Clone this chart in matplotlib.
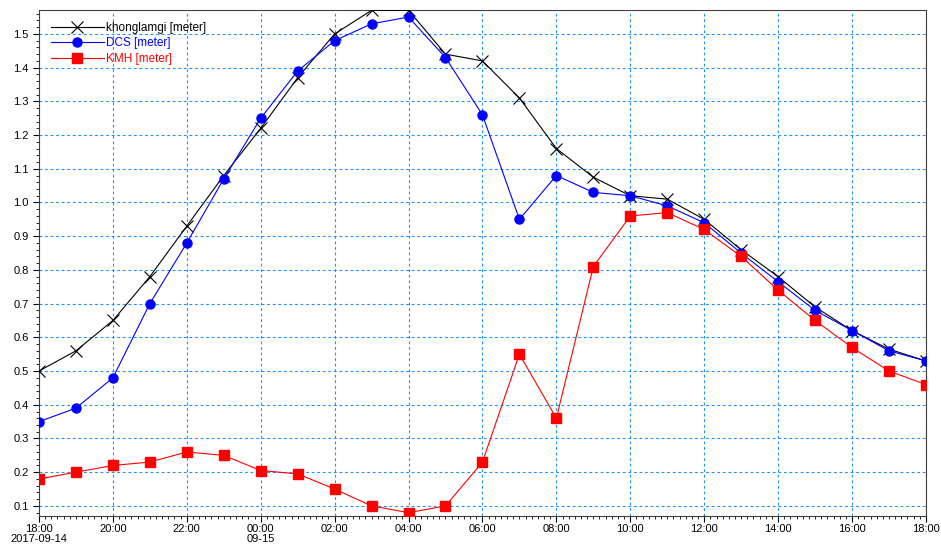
import matplotlib
matplotlib.use("Agg")
import matplotlib.pyplot as plt
import matplotlib.dates as mdates
from matplotlib.ticker import MultipleLocator
import pandas as pd

plt.rcParams['font.family'] = ['Liberation Sans', 'DejaVu Sans']

# hourly water level, 2017-09-14 18:00 -> 2017-09-15 18:00
times = pd.date_range("2017-09-14 18:00", "2017-09-15 18:00", freq="h")

khonglamgi = [0.50, 0.56, 0.65, 0.78, 0.93, 1.08, 1.22, 1.37, 1.50, 1.57, 1.57, 1.44, 1.42,
              1.31, 1.16, 1.075, 1.02, 1.01, 0.95, 0.86, 0.78, 0.69, 0.62, 0.565, 0.53]
dcs = [0.35, 0.39, 0.48, 0.70, 0.88, 1.07, 1.25, 1.39, 1.48, 1.53, 1.55, 1.43, 1.26,
       0.95, 1.08, 1.03, 1.02, 0.99, 0.94, 0.85, 0.765, 0.68, 0.62, 0.56, 0.53]
kmh = [0.18, 0.20, 0.22, 0.23, 0.26, 0.25, 0.205, 0.195, 0.15, 0.10, 0.08, 0.10, 0.23,
       0.55, 0.36, 0.81, 0.96, 0.97, 0.92, 0.84, 0.74, 0.65, 0.57, 0.50, 0.46]

fig = plt.figure(figsize=(9.41, 5.46), dpi=100)
ax = fig.add_axes([0.0414, 0.0549, 0.9426, 0.9268])

ax.plot(times, khonglamgi, color='black', lw=0.8, marker='x', ms=8, mew=0.8,
        label='khonglamgi [meter]', zorder=3)
ax.plot(times, dcs, color='blue', lw=0.8, marker='o', ms=6.5,
        label='DCS [meter]', zorder=4)
ax.plot(times, kmh, color='red', lw=0.8, marker='s', ms=6.5,
        label='KMH [meter]', zorder=5)

ax.set_xlim(times[0], times[-1])
ax.set_ylim(0.07, 1.571)

ticks = pd.date_range(times[0], times[-1], freq="2h")
labels = []
for t in ticks:
    if t == ticks[0]:
        labels.append(t.strftime("%H:%M\n%Y-%m-%d"))
    elif t.hour == 0:
        labels.append(t.strftime("%H:%M\n%m-%d"))
    else:
        labels.append(t.strftime("%H:%M"))
ax.set_xticks(ticks)
ax.set_xticklabels(labels, linespacing=1.1)
ax.xaxis.set_minor_locator(mdates.MinuteLocator(byminute=range(0, 60, 10)))

ax.yaxis.set_major_locator(MultipleLocator(0.1))
ax.yaxis.set_major_formatter(matplotlib.ticker.FormatStrFormatter('%.1f'))
ax.yaxis.set_minor_locator(MultipleLocator(0.02))

ax.tick_params(which='major', direction='out', length=4, width=0.8, labelsize=8, colors='black')
ax.tick_params(axis='x', which='major', pad=1.5)
ax.tick_params(which='minor', direction='out', length=2.5, width=0.6)

ax.grid(True, which='major', color='#1e90ff', linestyle=(0, (2.5, 2.5)), linewidth=0.8)

for s in ax.spines.values():
    s.set_linewidth(0.8)
    s.set_color('#404040')

leg = ax.legend(loc='upper left', frameon=False, fontsize=8.5, handlelength=4.5,
                borderaxespad=0.6, labelspacing=0.3, handletextpad=0.2)
for text, line in zip(leg.get_texts(), leg.get_lines()):
    text.set_color(line.get_color())

fig.savefig("out.png", dpi=100)
